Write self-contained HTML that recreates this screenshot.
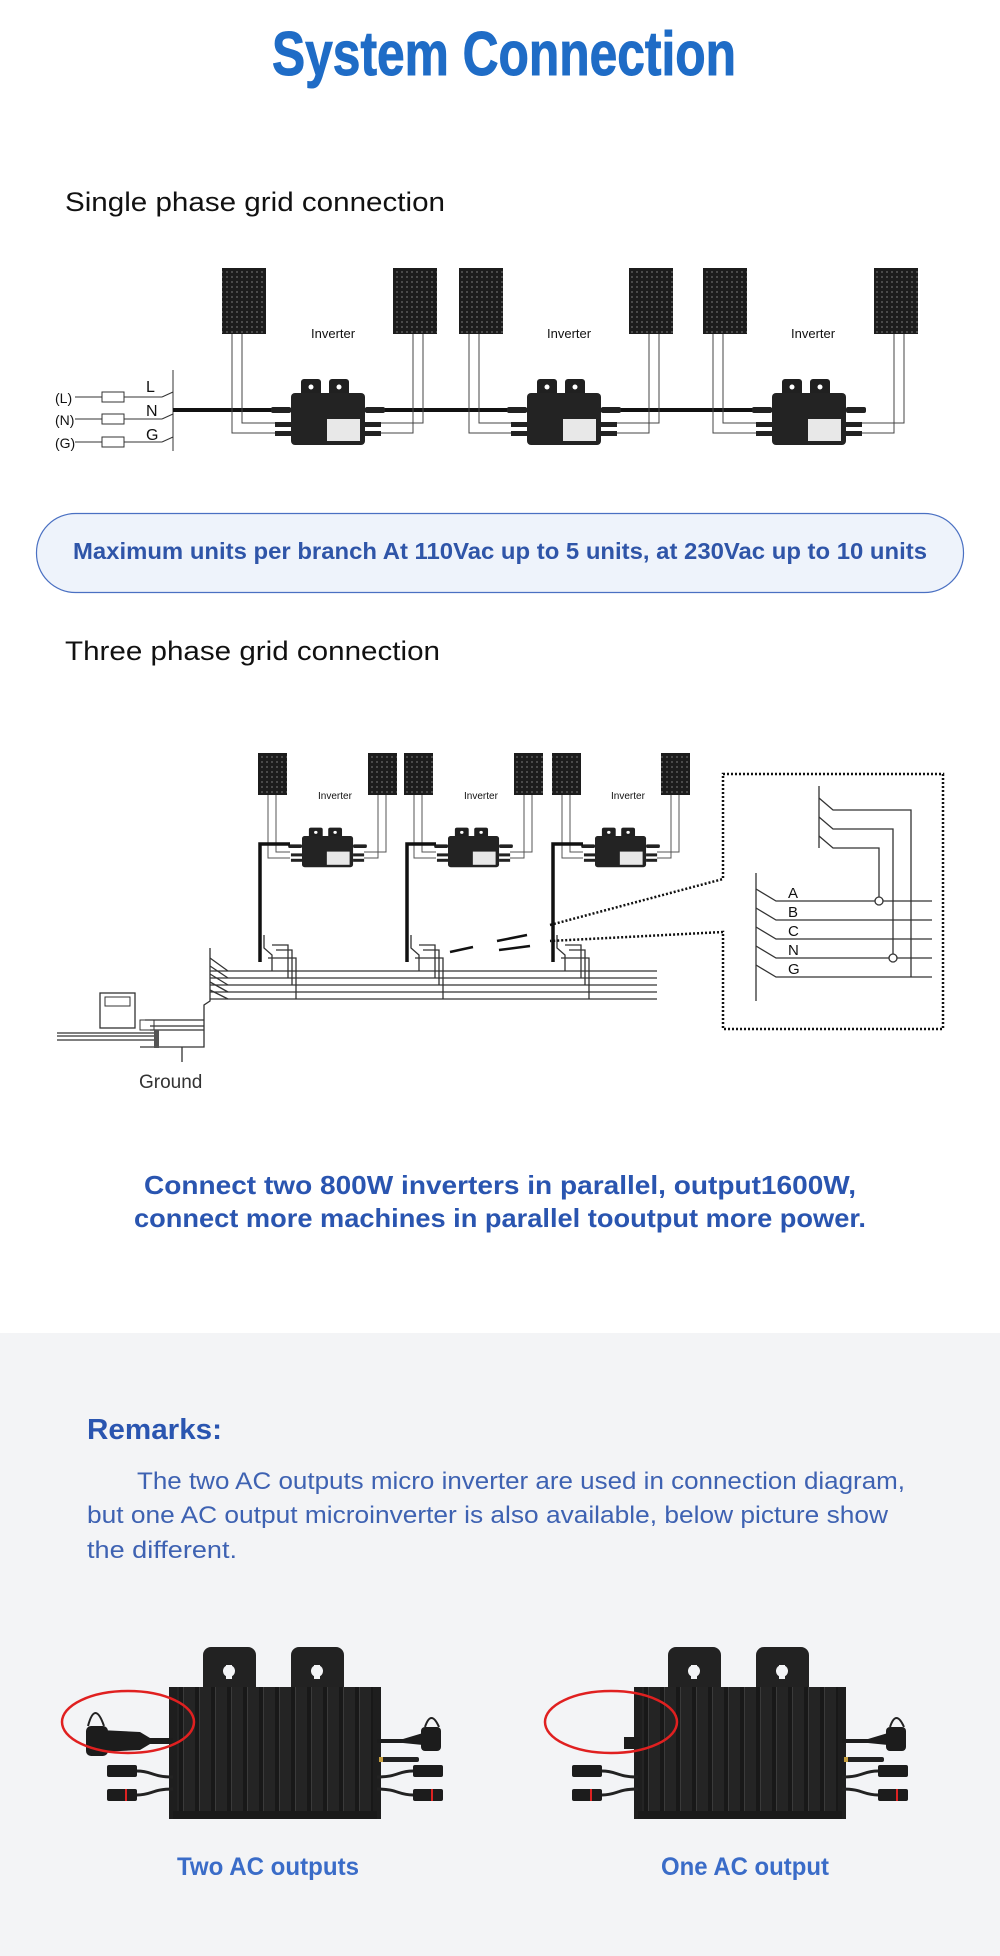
<!DOCTYPE html>
<html><head><meta charset="utf-8">
<style>
html,body{margin:0;padding:0;background:#fff;}
body{width:1000px;height:1956px;overflow:hidden;position:relative;}
svg{position:absolute;left:0;top:0;}
</style></head>
<body>
<svg width="1000" height="1956" viewBox="0 0 1000 1956" xmlns="http://www.w3.org/2000/svg">
<defs>
  <pattern id="cells" width="5" height="5" patternUnits="userSpaceOnUse">
    <rect width="5" height="5" fill="#1c1c1c"/>
    <rect x="1" y="1" width="2" height="2" fill="#4a4a4a"/>
  </pattern>
  <pattern id="fins" width="16" height="130" patternUnits="userSpaceOnUse">
    <rect width="16" height="130" fill="#242424"/>
    <rect x="6" y="0" width="4" height="130" fill="#181818"/>
    <rect x="10" y="0" width="1" height="130" fill="#3a3a3a"/>
  </pattern>
  <g id="inv1">
    <rect x="10" y="-14" width="20" height="22" rx="3" fill="#202020"/>
    <rect x="38" y="-14" width="20" height="22" rx="3" fill="#202020"/>
    <circle cx="20" cy="-6" r="2.5" fill="#fff"/><circle cx="48" cy="-6" r="2.5" fill="#fff"/>
    <rect x="0" y="0" width="74" height="52" rx="4" fill="#232323"/>
    <rect x="36" y="26" width="33" height="22" fill="#e8e8e8"/>
    <rect x="-20" y="14" width="20" height="6" rx="2" fill="#222"/>
    <rect x="74" y="14" width="20" height="6" rx="2" fill="#222"/>
    <rect x="-16" y="29" width="16" height="5" fill="#222"/><rect x="-16" y="38" width="16" height="5" fill="#222"/>
    <rect x="74" y="29" width="16" height="5" fill="#222"/><rect x="74" y="38" width="16" height="5" fill="#222"/>
  </g>
  <g id="big">
    <rect x="30" y="0" width="53" height="60" rx="8" fill="#222"/>
    <rect x="118" y="0" width="53" height="60" rx="8" fill="#222"/>
    <circle cx="56" cy="24" r="6" fill="#f3f4f6"/><rect x="53" y="18" width="6" height="14" fill="#f3f4f6"/>
    <circle cx="144" cy="24" r="6" fill="#f3f4f6"/><rect x="141" y="18" width="6" height="14" fill="#f3f4f6"/>
    <rect x="0" y="40" width="204" height="132" rx="4" fill="url(#fins)"/>
    <rect x="-4" y="40" width="8" height="132" fill="#1e1e1e"/>
    <rect x="200" y="40" width="8" height="132" fill="#1e1e1e"/>
    <rect x="0" y="164" width="204" height="8" fill="#1a1a1a"/>
    <rect x="204" y="110" width="42" height="5" rx="2" fill="#222"/><rect x="206" y="110" width="4" height="5" fill="#c8a040"/>
    <path d="M204 130 C225 130 225 124 240 124 L268 124 M204 142 C225 142 225 148 240 148 L268 148" stroke="#222" stroke-width="3" fill="none"/>
    <rect x="240" y="118" width="30" height="12" rx="2" fill="#1c1c1c"/>
    <rect x="240" y="142" width="30" height="12" rx="2" fill="#1c1c1c"/><rect x="258" y="142" width="2" height="12" fill="#d22"/>
    <path d="M0 130 C-21 130 -21 124 -36 124 L-64 124 M0 142 C-21 142 -21 148 -36 148 L-64 148" stroke="#222" stroke-width="3" fill="none"/>
    <rect x="-66" y="118" width="30" height="12" rx="2" fill="#1c1c1c"/>
    <rect x="-66" y="142" width="30" height="12" rx="2" fill="#1c1c1c"/><rect x="-48" y="142" width="2" height="12" fill="#d22"/>
    <path d="M204 92 L230 92 L250 86 L268 84 L268 100 L250 98 L230 96 L204 96 Z" fill="#1c1c1c"/>
    <rect x="248" y="80" width="20" height="24" rx="4" fill="#1c1c1c"/>
    <path d="M252 80 Q258 62 266 80" stroke="#222" stroke-width="2" fill="none"/>
  </g>
</defs>

<text x="504" y="75" text-anchor="middle" font-family="'Liberation Sans Narrow','Liberation Sans',sans-serif" font-weight="bold" font-size="62" fill="#1f6cc6" stroke="#1f6cc6" stroke-width="1" textLength="464" lengthAdjust="spacingAndGlyphs">System Connection</text>

<text x="65" y="211" font-family="'Liberation Sans',sans-serif" font-size="27" fill="#111" textLength="380" lengthAdjust="spacingAndGlyphs">Single phase grid connection</text>

<g font-family="'Liberation Sans',sans-serif" font-size="14" fill="#111">
  <text x="55" y="403">(L)</text><text x="55" y="425">(N)</text><text x="55" y="448">(G)</text>
  <g stroke="#333" fill="none" stroke-width="1">
    <line x1="75" y1="397" x2="102" y2="397"/><line x1="75" y1="419" x2="102" y2="419"/><line x1="75" y1="442" x2="102" y2="442"/>
    <rect x="102" y="392" width="22" height="10"/><rect x="102" y="414" width="22" height="10"/><rect x="102" y="437" width="22" height="10"/>
    <line x1="124" y1="397" x2="162" y2="397"/><line x1="124" y1="419" x2="162" y2="419"/><line x1="124" y1="442" x2="162" y2="442"/>
    <line x1="162" y1="397" x2="173" y2="392"/><line x1="162" y1="419" x2="173" y2="414"/><line x1="162" y1="442" x2="173" y2="437"/>
    <line x1="173" y1="370" x2="173" y2="451"/>
  </g>
  <text x="146" y="392" font-size="16">L</text><text x="146" y="416" font-size="16">N</text><text x="146" y="440" font-size="16">G</text>
</g>
<line x1="173" y1="410" x2="775" y2="410" stroke="#111" stroke-width="4"/>

<g fill="url(#cells)">
  <rect x="222" y="268" width="44" height="66"/><rect x="393" y="268" width="44" height="66"/>
  <rect x="459" y="268" width="44" height="66"/><rect x="629" y="268" width="44" height="66"/>
  <rect x="703" y="268" width="44" height="66"/><rect x="874" y="268" width="44" height="66"/>
</g>
<g stroke="#444" fill="none" stroke-width="1">
  <path d="M232 334 V433 H275 M242 334 V423 H275"/><path d="M413 334 V433 H380 M423 334 V423 H380"/>
  <path d="M469 334 V433 H511 M479 334 V423 H511"/><path d="M649 334 V433 H617 M659 334 V423 H617"/>
  <path d="M713 334 V433 H756 M723 334 V423 H756"/><path d="M894 334 V433 H862 M904 334 V423 H862"/>
</g>
<g font-family="'Liberation Sans Narrow','Liberation Sans',sans-serif" font-size="13" fill="#111">
  <text x="311" y="338">Inverter</text><text x="547" y="338">Inverter</text><text x="791" y="338">Inverter</text>
</g>
<use href="#inv1" x="291" y="393"/><use href="#inv1" x="527" y="393"/><use href="#inv1" x="772" y="393"/>

<rect x="36.5" y="513.5" width="927" height="79" rx="39" fill="#eef3fb" stroke="#4a70c2" stroke-width="1.2"/>
<text x="500" y="559" text-anchor="middle" font-family="'Liberation Sans',sans-serif" font-weight="bold" font-size="23" fill="#2f55a8" textLength="854" lengthAdjust="spacingAndGlyphs">Maximum units per branch At 110Vac up to 5 units, at 230Vac up to 10 units</text>

<text x="65" y="660" font-family="'Liberation Sans',sans-serif" font-size="27" fill="#111" textLength="375" lengthAdjust="spacingAndGlyphs">Three phase grid connection</text>

<g fill="url(#cells)">
  <rect x="258" y="753" width="29" height="42"/><rect x="368" y="753" width="29" height="42"/>
  <rect x="404" y="753" width="29" height="42"/><rect x="514" y="753" width="29" height="42"/>
  <rect x="552" y="753" width="29" height="42"/><rect x="661" y="753" width="29" height="42"/>
</g>
<g stroke="#555" fill="none" stroke-width="1">
  <path d="M268 795 V858 H290 M276 795 V852 H290"/><path d="M378 795 V858 H364 M386 795 V852 H364"/>
  <path d="M414 795 V858 H436 M422 795 V852 H436"/><path d="M524 795 V858 H510 M532 795 V852 H510"/>
  <path d="M562 795 V858 H583 M570 795 V852 H583"/><path d="M671 795 V858 H657 M679 795 V852 H657"/>
</g>
<g font-family="'Liberation Sans Narrow','Liberation Sans',sans-serif" font-size="10" fill="#111">
  <text x="318" y="799">Inverter</text><text x="464" y="799">Inverter</text><text x="611" y="799">Inverter</text>
</g>
<g transform="translate(302,836) scale(0.69,0.6)"><use href="#inv1"/></g>
<g transform="translate(448,836) scale(0.69,0.6)"><use href="#inv1"/></g>
<g transform="translate(595,836) scale(0.69,0.6)"><use href="#inv1"/></g>

<g stroke="#111" stroke-width="3.5" fill="none">
  <path d="M260 962 V844 H290"/><path d="M407 962 V844 H436"/><path d="M553 962 V844 H583"/>
</g>
<g stroke="#333" stroke-width="1.3" fill="none">
  <line x1="210" y1="971" x2="657" y2="971"/><line x1="210" y1="978" x2="657" y2="978"/>
  <line x1="210" y1="985" x2="657" y2="985"/><line x1="210" y1="992" x2="657" y2="992"/>
  <line x1="210" y1="999" x2="657" y2="999"/>
  <path d="M264 935 V948 L272 955 V971 M272 945 H288 V978 M276 950 H292 V985 M268 958 H296 V999"/>
  <path d="M411 935 V948 L419 955 V971 M419 945 H435 V978 M423 950 H439 V985 M415 958 H443 V999"/>
  <path d="M557 935 V948 L565 955 V971 M565 945 H581 V978 M569 950 H585 V985 M561 958 H589 V999"/>
  <path d="M210 948 V1001 L204 1005 V1047 H140"/>
  <path d="M210 958 L228 971 M210 966 L228 978 M210 974 L228 985 M210 982 L228 992 M210 990 L228 999"/>
  <path d="M204 1020 H145 M204 1026 H150 M204 1030 H150 M57 1033 H156 M57 1036 H156 M57 1040 H156"/>
  <line x1="182" y1="1047" x2="182" y2="1062"/>
</g>
<rect x="100" y="993" width="35" height="35" fill="#fff" stroke="#333" stroke-width="1.3"/>
<rect x="105" y="997" width="25" height="9" fill="none" stroke="#333"/>
<rect x="140" y="1020" width="14" height="10" fill="none" stroke="#333"/>
<rect x="154" y="1030" width="5" height="18" fill="#555"/>
<text x="139" y="1088" font-family="'Liberation Sans',sans-serif" font-size="19" fill="#333">Ground</text>

<g stroke="#111" stroke-width="2.5">
  <line x1="450" y1="952" x2="473" y2="947"/><line x1="497" y1="941" x2="527" y2="935"/><line x1="499" y1="950" x2="530" y2="946"/>
</g>
<g stroke="#111" stroke-width="2.5" stroke-dasharray="2 2" fill="none">
  <path d="M550 925 L723 879 V774 H943 V1029 H723 V932 L550 941"/>
</g>
<g stroke="#333" stroke-width="1.3" fill="none">
  <line x1="756" y1="873" x2="756" y2="1001"/>
  <path d="M756 889 L776 901 H932 M756 908 L776 920 H932 M756 927 L776 939 H932 M756 946 L776 958 H932 M756 965 L776 977 H932"/>
  <line x1="819" y1="786" x2="819" y2="848"/>
  <path d="M819 798 L833 810 H911 V977 M819 817 L833 829 H893 V958 M819 836 L833 848 H879 V901"/>
  <circle cx="879" cy="901" r="4" fill="#fff"/><circle cx="893" cy="958" r="4" fill="#fff"/>
</g>
<g font-family="'Liberation Sans',sans-serif" font-size="15" fill="#111">
  <text x="788" y="898">A</text><text x="788" y="917">B</text><text x="788" y="936">C</text><text x="788" y="955">N</text><text x="788" y="974">G</text>
</g>

<g font-family="'Liberation Sans',sans-serif" font-weight="bold" font-size="26" fill="#2a55b0" text-anchor="middle">
  <text x="500" y="1194" textLength="712" lengthAdjust="spacingAndGlyphs">Connect two 800W inverters in parallel, output1600W,</text>
  <text x="500" y="1227" textLength="732" lengthAdjust="spacingAndGlyphs">connect more machines in parallel tooutput more power.</text>
</g>

<rect x="0" y="1333" width="1000" height="623" fill="#f3f4f6"/>
<text x="87" y="1439" font-family="'Liberation Sans',sans-serif" font-weight="bold" font-size="29" fill="#2a55b0" textLength="135" lengthAdjust="spacingAndGlyphs">Remarks:</text>
<g font-family="'Liberation Sans',sans-serif" font-size="24" fill="#3e62b2">
  <text x="137" y="1489" textLength="768" lengthAdjust="spacingAndGlyphs">The two AC outputs micro inverter are used in connection diagram,</text>
  <text x="87" y="1523" textLength="801" lengthAdjust="spacingAndGlyphs">but one AC output microinverter is also available, below picture show</text>
  <text x="87" y="1558" textLength="150" lengthAdjust="spacingAndGlyphs">the different.</text>
</g>

<use href="#big" x="173" y="1647"/>
<path d="M173 1738 L150 1738 L140 1732 L100 1730 L100 1752 L140 1750 L150 1744 L173 1744 Z" fill="#1c1c1c"/>
<rect x="86" y="1726" width="22" height="30" rx="5" fill="#1c1c1c"/>
<path d="M88 1726 Q95 1700 104 1726" stroke="#222" stroke-width="2" fill="none"/>
<use href="#big" x="638" y="1647"/>
<rect x="624" y="1737" width="16" height="12" fill="#1c1c1c"/>

<ellipse cx="128" cy="1722" rx="66" ry="31" fill="none" stroke="#e02020" stroke-width="2.5"/>
<ellipse cx="611" cy="1722" rx="66" ry="31" fill="none" stroke="#e02020" stroke-width="2.5"/>

<g font-family="'Liberation Sans',sans-serif" font-weight="bold" font-size="25" fill="#3a6cc8" text-anchor="middle">
  <text x="268" y="1875" textLength="182" lengthAdjust="spacingAndGlyphs">Two AC outputs</text>
  <text x="745" y="1875" textLength="168" lengthAdjust="spacingAndGlyphs">One AC output</text>
</g>
</svg>
</body></html>
